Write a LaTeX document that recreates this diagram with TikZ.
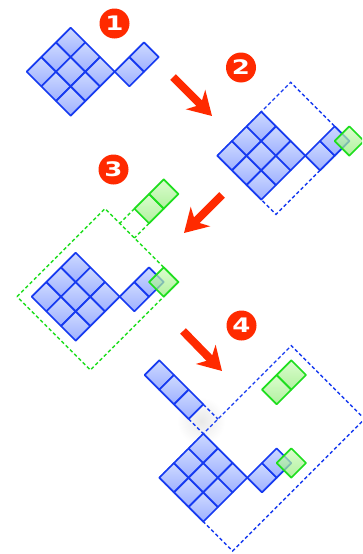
\documentclass[tikz,border=0pt]{standalone}
\usepackage{fontspec}
\newfontfamily\numfont{DejaVu Sans}[FakeStretch=1.3]
\usetikzlibrary{arrows.meta}
\definecolor{bstroke}{RGB}{22,58,240}
\definecolor{bfillA}{RGB}{206,218,255}
\definecolor{bfillB}{RGB}{158,176,255}
\definecolor{gstroke}{RGB}{30,222,30}
\definecolor{gfillA}{RGB}{205,252,185}
\definecolor{gfillB}{RGB}{145,236,120}
\definecolor{redc}{RGB}{255,42,0}
\newcommand\cellpath[2]{(#1,#2) -- ++(1,0) -- ++(0,1) -- ++(-1,0) -- cycle}
\newcommand\bluemain{%
  \foreach \i in {0,1,2}{\foreach \j in {0,1,2}{\path[bcell] \cellpath{\i}{\j};}}%
  \path[bcell] \cellpath{3}{3};
  \path[bcell] \cellpath{4}{3};}
\tikzset{
  bcell/.style={draw=bstroke, line width=1.7pt, top color=bfillA, bottom color=bfillB, line join=round},
  gcell/.style={draw=gstroke, line width=1.7pt, top color=gfillA, bottom color=gfillB, fill opacity=0.7, line join=round},
  bdash/.style={draw=bstroke, line width=1.4pt, dash pattern=on 3.5pt off 2.5pt},
  gdash/.style={draw=gstroke, line width=1.4pt, dash pattern=on 3.5pt off 2.5pt},
  redarrow/.style={draw=redc, line width=8pt, -{Stealth[length=23pt,width=27pt,inset=7pt]}},
  numcirc/.style={circle, fill=redc, text=white, minimum size=30pt, inner sep=0pt, font=\numfont\bfseries\fontsize{20}{20}\selectfont},
  gridsys/.style={x={(14.67pt,14.67pt)}, y={(14.67pt,-14.67pt)}}
}
\begin{document}
\begin{tikzpicture}[x=1pt,y=-1pt]
\fill[white] (0,0) rectangle (362,554);
\useasboundingbox (0,0) rectangle (362,554);
\clip (0,0) rectangle (362,554);
% glow in panel 4
\shade[inner color=black!9, outer color=white] (201,421) circle (24);
% panel 1
\begin{scope}[shift={(26.7,71.7)}, gridsys]
  \bluemain
\end{scope}
% panel 2
\begin{scope}[shift={(217.3,155.7)}, gridsys]
  \draw[bdash] (0,0) -- (5,0) -- (5,4) -- (0,4) -- cycle;
  \bluemain
  \path[gcell] \cellpath{4.5}{3.5};
\end{scope}
% panel 3
\begin{scope}[shift={(31.7,296.7)}, gridsys]
  \draw[gdash] (-0.5,-0.5) -- (5.5,-0.5) -- (5.5,4.5) -- (-0.5,4.5) -- cycle;
  \draw[gdash] (6.5,0.5) -- (5.5,0.5);
  \draw[gdash] (6.5,1.5) -- (5.5,1.5);
  \bluemain
  \path[gcell] \cellpath{4.5}{3.5};
  \path[gcell] \cellpath{6.5}{0.5};
  \path[gcell] \cellpath{7.5}{0.5};
\end{scope}
% panel 4
\begin{scope}[shift={(159.3,477.7)}, gridsys]
  \draw[bdash] (0,0) -- (9,0) -- (9,5) -- (0,5) -- cycle;
  \draw[bdash] (3,-1) -- (3,0);
  \draw[bdash] (4,-1) -- (4,0);
  \bluemain
  \path[bcell] \cellpath{3}{-4};
  \path[bcell] \cellpath{3}{-3};
  \path[bcell] \cellpath{3}{-2};
  \path[gcell] \cellpath{4.5}{3.5};
  \path[gcell] \cellpath{6.5}{0.5};
  \path[gcell] \cellpath{7.5}{0.5};
\end{scope}
% arrows
\coordinate (a1s) at (173,77);  \coordinate (a1e) at (212,116);
\coordinate (a2s) at (222,195); \coordinate (a2e) at (184,233);
\coordinate (a3s) at (183,331); \coordinate (a3e) at (222,371);
\draw[redarrow] (a1s) -- (a1e);
\draw[redarrow] (a2s) -- (a2e);
\draw[redarrow] (a3s) -- (a3e);
% numbers
\node[numcirc] (n1) at (114.5,23.5) {1};
\node[numcirc] (n2) at (241,67.5) {2};
\node[numcirc] (n3) at (113.5,169.5) {3};
\node[numcirc] (n4) at (241.5,325.5) {4};
\end{tikzpicture}
\end{document}
